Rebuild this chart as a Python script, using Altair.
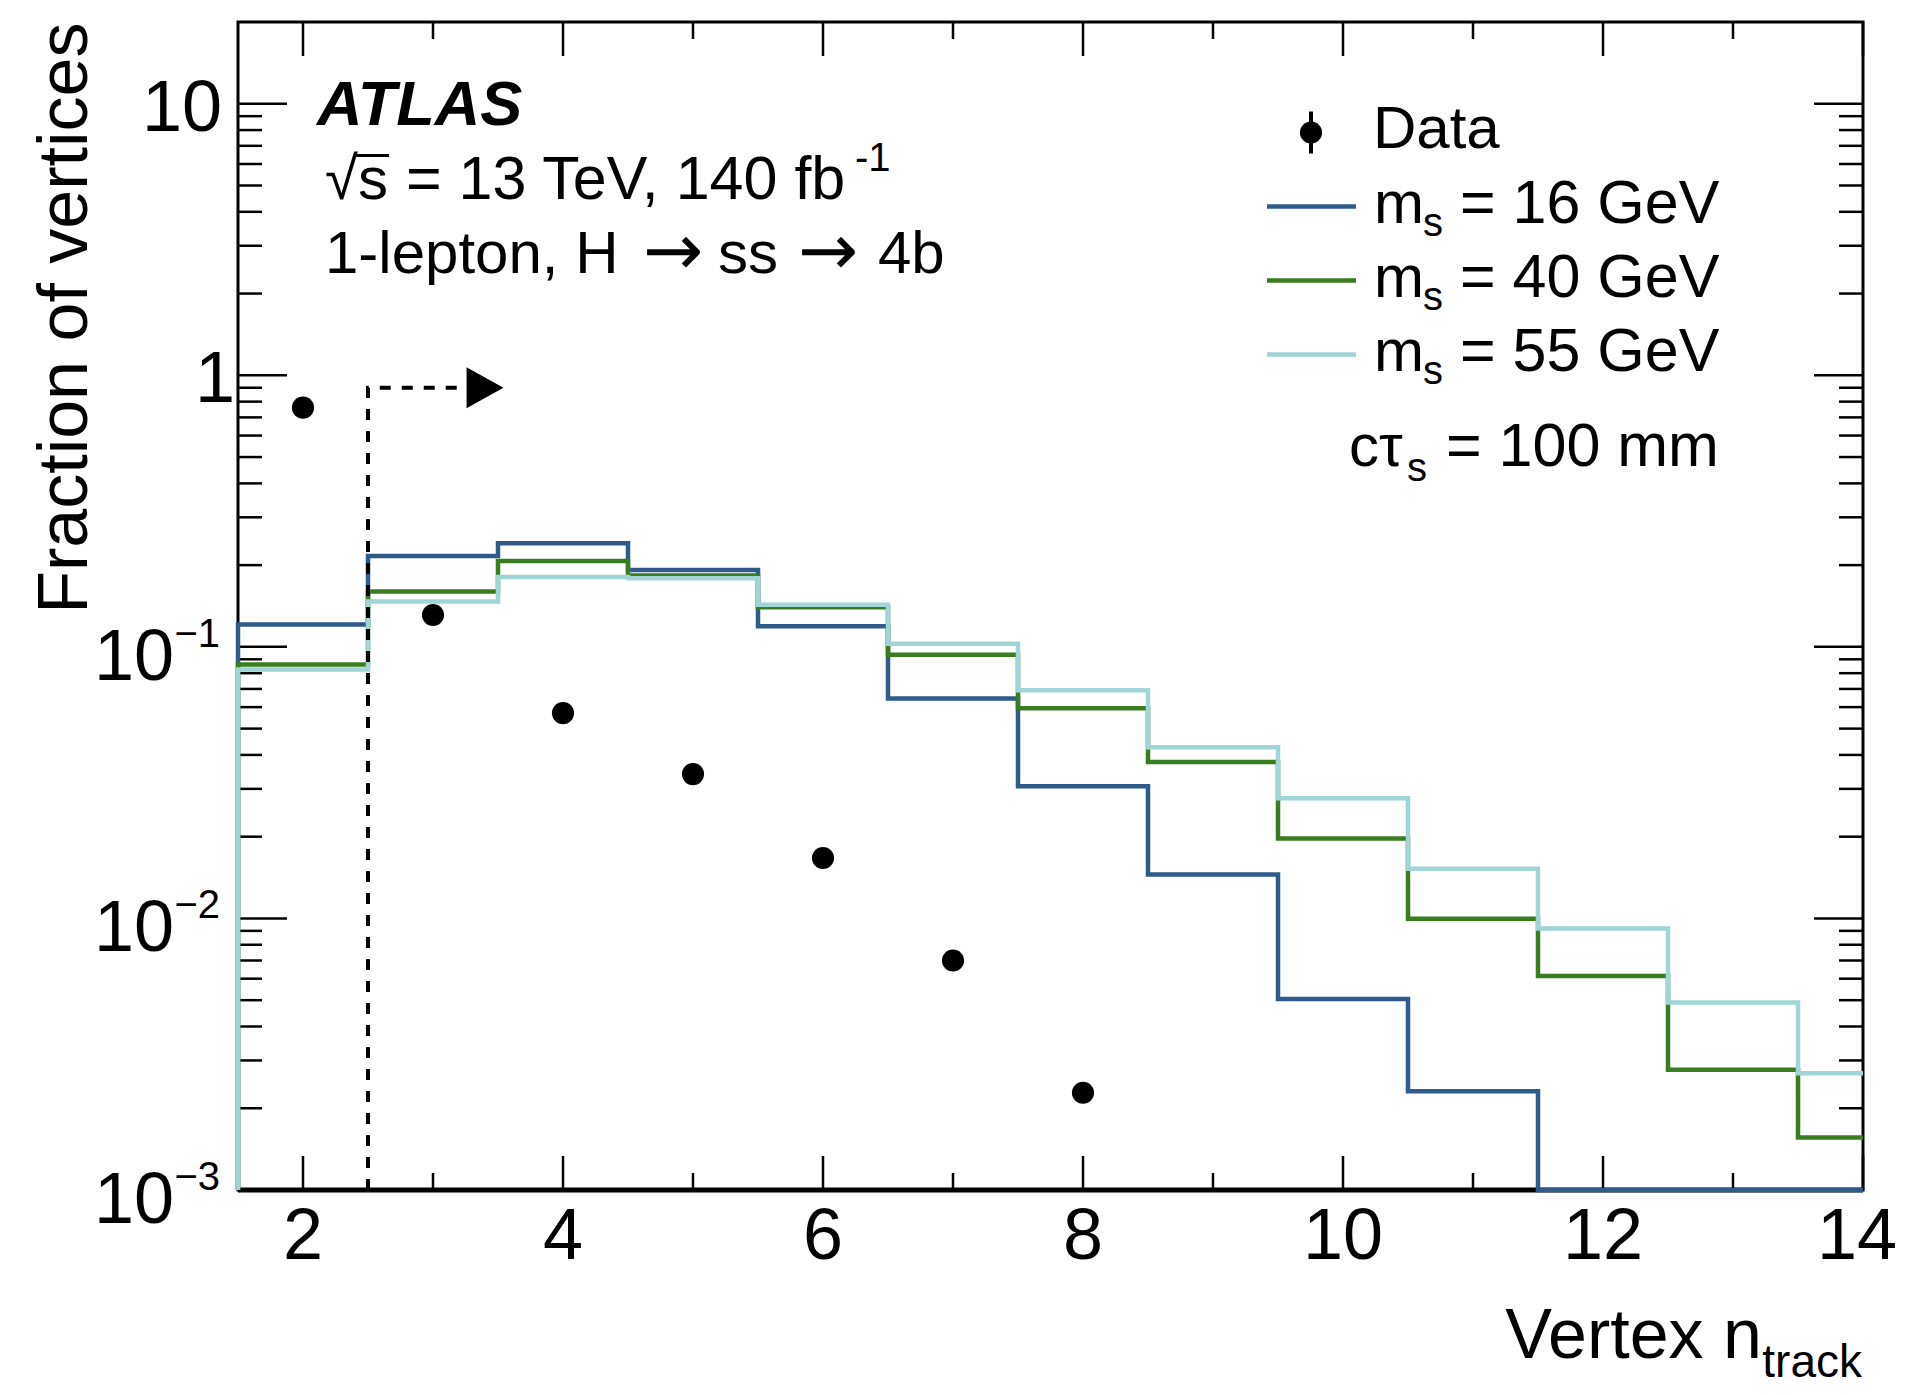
import altair as alt
import pandas as pd

# ---------------- data ----------------
bin_centers = [2, 3, 4, 5, 6, 7, 8, 9, 10, 11, 12, 13, 14]
frac_ms16 = [0.121, 0.216, 0.241, 0.192, 0.119, 0.0645, 0.0307, 0.0145, 0.00505, 0.00231, 0.001, 0.001, 0.001]
frac_ms40 = [0.0861, 0.160, 0.207, 0.183, 0.140, 0.0935, 0.0594, 0.0377, 0.0197, 0.00998, 0.00614, 0.00277, 0.00156]
frac_ms55 = [0.0826, 0.147, 0.181, 0.179, 0.143, 0.1026, 0.0693, 0.0427, 0.0277, 0.01524, 0.00919, 0.0049, 0.00269]
data_ntrack = [2, 3, 4, 5, 6, 7, 8]
data_frac = [0.76, 0.131, 0.057, 0.034, 0.0167, 0.0070, 0.00228]

series_names = ["m_s = 16 GeV", "m_s = 40 GeV", "m_s = 55 GeV"]
series_colors = ["#2e5b8a", "#3a7d21", "#9fd5d7"]
legend_mass = ["16", "40", "55"]

x_range = [1.5, 14]
y_range = [0.001, 20]
x_tick_major = [2, 4, 6, 8, 10, 12, 14]
x_tick_minor = [3, 5, 7, 9, 11, 13]
x_tick_labels = ["2", "4", "6", "8", "10", "12", "14"]
y_decades = [0.001, 0.01, 0.1, 1, 10]
y_minor = [round(m * 10.0 ** e, 6) for e in range(-3, 2) for m in range(2, 10) if m * 10.0 ** e < 20]

cut_x = [2.5, 2.5, 3.26]
cut_y = [0.001, 0.9, 0.9]
arrow_x = [3.4]
arrow_y = [0.9]

# ---------------- layout ----------------
W, H = 1625, 1168
FONT = "Liberation Sans"

xs = alt.Scale(domain=x_range, nice=False, zero=False)
ys = alt.Scale(type="log", domain=y_range, nice=False, clamp=True)

rows = []
for name, vals in zip(series_names, [frac_ms16, frac_ms40, frac_ms55]):
    k = 0
    rows.append({"series": name, "x": x_range[0], "y": y_range[0], "o": k})
    for c, v in zip(bin_centers, vals):
        lo = c - 0.5
        hi = min(c + 0.5, x_range[1])
        k += 1
        rows.append({"series": name, "x": lo, "y": v, "o": k})
        k += 1
        rows.append({"series": name, "x": hi, "y": v, "o": k})
hist_df = pd.DataFrame(rows)

hist = alt.Chart(hist_df).mark_line(strokeWidth=4.5, strokeJoin="miter").encode(
    x=alt.X("x:Q", scale=xs, axis=None),
    y=alt.Y("y:Q", scale=ys, axis=None),
    color=alt.Color("series:N", scale=alt.Scale(domain=series_names, range=series_colors), legend=None),
    order=alt.Order("o:Q"),
)

cut_df = pd.DataFrame({"x": cut_x, "y": cut_y, "o": list(range(len(cut_x)))})
cut = alt.Chart(cut_df).mark_line(color="black", strokeWidth=4, strokeDash=[11, 11]).encode(
    x=alt.X("x:Q", scale=xs, axis=None),
    y=alt.Y("y:Q", scale=ys, axis=None),
    order=alt.Order("o:Q"),
)
arrow = alt.Chart(pd.DataFrame({"x": arrow_x, "y": arrow_y})).mark_point(
    shape="M-0.9,-1L0.9,0L-0.9,1Z", size=1681, filled=True, color="black", opacity=1
).encode(
    x=alt.X("x:Q", scale=xs, axis=None),
    y=alt.Y("y:Q", scale=ys, axis=None),
)

points = alt.Chart(pd.DataFrame({"x": data_ntrack, "y": data_frac})).mark_circle(
    size=490, color="black", opacity=1
).encode(
    x=alt.X("x:Q", scale=xs, axis=None),
    y=alt.Y("y:Q", scale=ys, axis=None),
)


def xticks(vals, length, top):
    df = pd.DataFrame({"v": vals})
    if top:
        yy, yy2 = 0, length
    else:
        yy, yy2 = H, H - length
    return alt.Chart(df).mark_rule(color="black", strokeWidth=2.5).encode(
        x=alt.X("v:Q", scale=xs, axis=None), y=alt.value(yy), y2=alt.value(yy2)
    )


def yticks(vals, length, right):
    df = pd.DataFrame({"v": vals})
    if right:
        xx, xx2 = W, W - length
    else:
        xx, xx2 = 0, length
    return alt.Chart(df).mark_rule(color="black", strokeWidth=2.5).encode(
        y=alt.Y("v:Q", scale=ys, axis=None), x=alt.value(xx), x2=alt.value(xx2)
    )


ticks = [
    xticks(x_tick_major, 34, False), xticks(x_tick_minor, 17, False),
    xticks(x_tick_major, 34, True), xticks(x_tick_minor, 17, True),
    yticks(y_decades, 49, False), yticks(y_minor, 24, False),
    yticks(y_decades, 49, True), yticks(y_minor, 24, True),
]

bottom_line = alt.Chart(alt.Data(values=[{"a": 1}])).mark_rule(color="black", strokeWidth=5).encode(
    x=alt.value(0), x2=alt.value(W), y=alt.value(H)
)

# x tick labels (the last one nudged left so it stays on the page, as in the reference)
xlab = alt.Chart(pd.DataFrame({"v": x_tick_major[:-1], "t": x_tick_labels[:-1]})).mark_text(
    font=FONT, fontSize=72, align="center", baseline="alphabetic", color="black"
).encode(x=alt.X("v:Q", scale=xs, axis=None), y=alt.value(H + 69), text="t:N")
xlab_last = alt.Chart(pd.DataFrame({"v": x_tick_major[-1:], "t": x_tick_labels[-1:]})).mark_text(
    font=FONT, fontSize=72, align="center", baseline="alphabetic", color="black", dx=-6
).encode(x=alt.X("v:Q", scale=xs, axis=None), y=alt.value(H + 69), text="t:N")

# y tick labels
ylab_10 = alt.Chart(pd.DataFrame({"v": [10], "t": ["10"]})).mark_text(
    font=FONT, fontSize=72, align="right", baseline="alphabetic", dy=27, color="black"
).encode(y=alt.Y("v:Q", scale=ys, axis=None), x=alt.value(-16), text="t:N")
ylab_1 = alt.Chart(pd.DataFrame({"v": [1], "t": ["1"]})).mark_text(
    font=FONT, fontSize=72, align="right", baseline="alphabetic", dy=27, color="black"
).encode(y=alt.Y("v:Q", scale=ys, axis=None), x=alt.value(-3), text="t:N")
exp_vals = [0.1, 0.01, 0.001]
ylab_base = alt.Chart(pd.DataFrame({"v": exp_vals, "t": ["10", "10", "10"]})).mark_text(
    font=FONT, fontSize=72, align="right", baseline="alphabetic", dy=33, color="black"
).encode(y=alt.Y("v:Q", scale=ys, axis=None), x=alt.value(-64), text="t:N")
ylab_exp = alt.Chart(pd.DataFrame({"v": exp_vals, "t": ["\u22121", "\u22122", "\u22123"]})).mark_text(
    font=FONT, fontSize=40, align="right", baseline="alphabetic", dy=0, color="black"
).encode(y=alt.Y("v:Q", scale=ys, axis=None), x=alt.value(-18), text="t:N")


def txt(s, x, y, size, align="left", angle=0, italic=False, bold=False, font=FONT):
    kw = dict(font=font, fontSize=size, align=align, baseline="alphabetic", color="black")
    if angle:
        kw["angle"] = angle
    if italic:
        kw["fontStyle"] = "italic"
    if bold:
        kw["fontWeight"] = "bold"
    return alt.Chart(alt.Data(values=[{"t": s}])).mark_text(**kw).encode(
        x=alt.value(x), y=alt.value(y), text=alt.Text("t:N")
    )


def hrule(x1, x2, y, color="black", width=3.0):
    return alt.Chart(alt.Data(values=[{"a": 1}])).mark_rule(color=color, strokeWidth=width).encode(
        x=alt.value(x1), x2=alt.value(x2), y=alt.value(y)
    )


texts = [
    txt("Fraction of vertices", -151, 0.5, 70, align="right", angle=270),
    txt("Vertex n", 1524, 1336, 70, align="right"),
    txt("track", 1624, 1355, 46, align="right"),
    txt("ATLAS", 79, 102.5, 63, italic=True, bold=True),
    # sqrt(s) = 13 TeV, 140 fb^-1
    txt("\u221as", 87, 176.5, 60),
    hrule(116, 151, 133.5, width=3),
    txt("= 13 TeV, 140 fb", 168, 176.5, 61),
    txt("-1", 617, 148.5, 40),
    # 1-lepton, H -> ss -> 4b
    txt("1-lepton, H", 87, 250.5, 60),
    txt("\u2192", 405, 253, 72, font="DejaVu Sans"),
    txt("ss", 480, 250.5, 60),
    txt("\u2192", 560, 253, 72, font="DejaVu Sans"),
    txt("4b", 640, 250.5, 60),
    # legend
    txt("Data", 1135, 125.5, 60),
    txt("c\u03c4", 1111, 443.5, 60),
    txt("s", 1169, 458.5, 40),
    txt("= 100 mm", 1208, 443.5, 61),
]
leg_base = [200.5, 274.5, 348.5]
leg_line_y = [184.5, 258.5, 332.5]
legend_layers = []
for mass, col, yb, yl in zip(legend_mass, series_colors, leg_base, leg_line_y):
    legend_layers.append(txt("m", 1136, yb, 60))
    legend_layers.append(txt("s", 1185, yb + 13, 40))
    legend_layers.append(txt("= " + mass + " GeV", 1222, yb, 61))
    legend_layers.append(hrule(1029, 1118, yl, color=col, width=4.5))
legend_layers.append(
    alt.Chart(alt.Data(values=[{"a": 1}])).mark_rule(color="black", strokeWidth=4).encode(
        x=alt.value(1073), y=alt.value(89.5), y2=alt.value(131.5)
    )
)
legend_layers.append(
    alt.Chart(alt.Data(values=[{"a": 1}])).mark_circle(size=490, color="black", opacity=1).encode(
        x=alt.value(1073), y=alt.value(110.5)
    )
)

chart = alt.layer(
    *ticks, bottom_line, hist, cut, arrow, points,
    xlab, xlab_last, ylab_10, ylab_1, ylab_base, ylab_exp,
    *texts, *legend_layers
).properties(
    width=W, height=H,
    autosize=alt.AutoSizeParams(type="none"),
    padding={"left": 230, "top": 14, "right": 34, "bottom": 197},
    background="white",
).configure_view(stroke="black", strokeWidth=3)

chart.save("out.html", embed_options={"renderer": "svg", "actions": False})
